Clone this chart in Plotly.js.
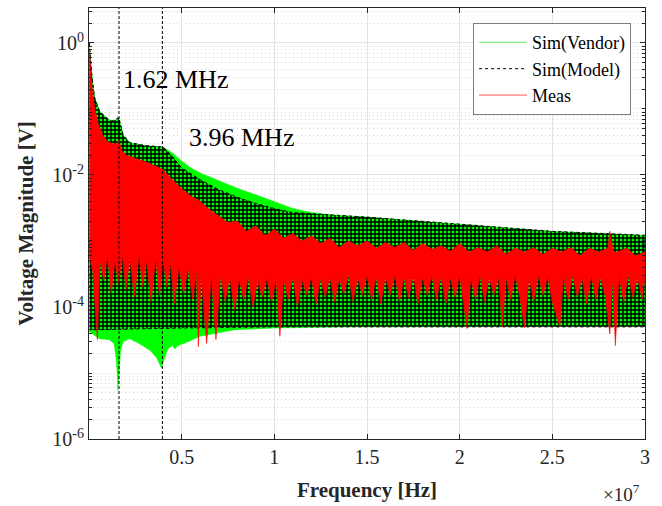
<!DOCTYPE html>
<html>
<head>
<meta charset="utf-8">
<script src="https://cdn.plot.ly/plotly-3.0.1.min.js"></script>
<style>html,body{margin:0;padding:0;background:#fff}#chart{width:662px;height:506px}</style>
</head>
<body>
<div id="chart"></div>
<script>
// ---- Data (frequencies in MHz, magnitudes in V) ----
// Sim(Vendor) envelope
const vendorUpF = [0.02,0.1,0.15,0.3,0.57,0.9,1.2,1.45,1.58,1.68,1.85,2.2,3.0,4.0,4.5,5.0,5.5,6.0,7.0,8.0,9.0,10,11,12,13,14,15,20,25,30];
const vendorUpV = [1.0,0.55,0.34,0.15,0.093,0.075,0.066,0.068,0.075,0.062,0.04,0.031,0.028,0.0265,0.0216,0.0163,0.0128,0.0107,0.0081,0.0063,0.0050,0.0039,0.0031,0.0027,0.0025,0.0024,0.0023,0.0018,0.0014,0.00122];
const vendorLoF = [0.02,0.57,1.1,1.35,1.45,1.52,1.56,1.62,1.7,1.85,2.2,2.7,3.3,3.65,3.9,4.25,4.5,4.63,4.8,5.25,6.0,7.8,10,14,30];
const vendorLoV = [4.2e-5,3.3e-5,3.2e-5,2.8e-5,1.8e-5,1.0e-5,5.4e-6,9e-6,2.2e-5,3.0e-5,3.3e-5,2.8e-5,2.2e-5,1.7e-5,1.2e-5,2.3e-5,2.6e-5,2.3e-5,2.6e-5,2.9e-5,3.6e-5,4.5e-5,4.8e-5,5.0e-5,5.1e-5];
// Sim(Model) envelope
const modelUpF = [0.02,0.1,0.15,0.3,0.57,0.9,1.2,1.45,1.58,1.68,1.85,2.2,3.0,4.0,4.5,5.0,6.0,7.0,8.0,9.0,10,11,12,13,14,15,20,25,30];
const modelUpV = [1.0,0.55,0.34,0.15,0.093,0.075,0.066,0.068,0.075,0.062,0.04,0.031,0.028,0.0265,0.019,0.0128,0.0085,0.0060,0.0046,0.0037,0.0031,0.0027,0.0026,0.0025,0.0024,0.0023,0.0018,0.0014,0.00122];
const modelLoF = [0.02,2.0,5.0,10,20,30];
const modelLoV = [4.5e-5,4.6e-5,4.8e-5,5.0e-5,5.0e-5,5.0e-5];
// Meas envelope
const measUpF = [0.02,0.1,0.2,0.35,0.5,0.75,1.0,1.25,1.5,1.62,1.75,2.0,2.5,3.0,3.5,4.0,4.5,5.0,5.5,6.0,6.5,7.0,7.5,8.0,8.5,9.0,9.5,10,10.5,11,11.5,12,12.5,13,13.5,14,14.5,15,15.5,16,16.5,17,17.5,18,18.5,19,19.5,20,20.5,21,21.5,22,22.5,23,23.5,24,24.5,25,25.5,26,26.5,27,27.5,28,28.1,28.3,28.5,29,29.5,30];
const measUpV = [0.8,0.35,0.16,0.09,0.06,0.04,0.032,0.03,0.03,0.034,0.024,0.02,0.018,0.016,0.014,0.012,0.0085,0.0062,0.0048,0.004,0.003,0.0024,0.0019,0.002,0.0014,0.0017,0.0012,0.0015,0.0011,0.0013,0.001,0.0012,0.00092,0.0011,0.0008,0.001,0.00085,0.001,0.00078,0.00095,0.0008,0.00095,0.00072,0.00092,0.00075,0.00085,0.0007,0.00092,0.00068,0.0008,0.00068,0.00085,0.00063,0.00078,0.00068,0.0008,0.00063,0.00078,0.00068,0.0008,0.0006,0.00078,0.00068,0.00078,0.0014,0.00068,0.00068,0.00078,0.0006,0.00068];
const measLoF = [0.02,0.2,0.45,0.6,0.8,1.0,1.2,1.4,1.6,1.8,2.0,2.2,2.45,2.7,2.9,3.1,3.35,3.6,3.8,4.0,4.2,4.4,4.6,4.85,5.1,5.35,5.6,5.8,5.9,6.05,6.35,6.6,6.85,7.1,7.35,7.6,7.85,8.1,8.35,8.6,8.85,9.1,9.35,9.6,9.85,10.1,10.3,10.5,10.75,11.0,11.25,11.5,11.75,12.0,12.25,12.5,12.75,13.0,13.25,13.5,13.75,14.0,14.25,14.5,14.75,15.0,15.25,15.5,15.75,16.0,16.25,16.5,16.75,17.0,17.25,17.5,17.75,18.0,18.25,18.5,18.75,19.0,19.25,19.5,19.75,20.0,20.4,20.6,20.85,21.1,21.35,21.6,21.85,22.1,22.3,22.5,22.75,23.0,23.25,23.5,23.75,24.0,24.25,24.5,24.75,25.0,25.4,25.6,25.85,26.1,26.35,26.6,26.85,27.1,27.35,27.6,27.85,28.1,28.25,28.4,28.6,28.85,29.1,29.35,29.6,29.85,30.0];
const measLoV = [6e-4,3.5e-4,3.2e-5,5e-4,2.5e-4,6e-4,1.6e-4,5e-4,2.2e-4,6e-4,1.8e-4,5.5e-4,1.4e-4,6e-4,2.0e-4,5e-4,1.2e-4,5.5e-4,1.5e-4,5e-4,2e-4,4.5e-4,1.1e-4,4e-4,1.6e-4,3.8e-4,1.3e-4,3.5e-4,2.5e-5,3.2e-4,2.8e-5,3e-4,3.2e-5,3e-4,1.2e-4,2.8e-4,9e-5,2.6e-4,1.3e-4,2.8e-4,1.0e-4,2.5e-4,1.4e-4,2.7e-4,1.2e-4,2.6e-4,3.6e-5,2.6e-4,1.3e-4,2.8e-4,1.0e-4,2.6e-4,1.5e-4,2.8e-4,1.1e-4,2.7e-4,1.4e-4,2.9e-4,1.2e-4,2.7e-4,1.6e-4,3e-4,1.2e-4,2.8e-4,1.5e-4,3e-4,1.3e-4,2.8e-4,1.1e-4,2.9e-4,1.5e-4,3e-4,1.2e-4,2.8e-4,1.4e-4,3e-4,1.1e-4,2.8e-4,1.5e-4,3e-4,1.3e-4,2.9e-4,1.1e-4,2.8e-4,1.4e-4,3e-4,4.7e-5,2.8e-4,1.3e-4,3e-4,1.2e-4,2.8e-4,1.5e-4,2.9e-4,5e-5,2.8e-4,1.3e-4,3e-4,1.4e-4,4.8e-5,2.8e-4,1.2e-4,3e-4,1.5e-4,2.9e-4,1.2e-4,5e-5,2.8e-4,1.3e-4,3e-4,1.4e-4,2.8e-4,1.1e-4,3e-4,1.3e-4,2.8e-4,1.5e-4,3.9e-5,2.8e-4,2.6e-5,2.9e-4,1.2e-4,3e-4,1.4e-4,2.8e-4,1.3e-4,2.9e-4];
// Marked resonances (MHz)
const markerF = [1.62, 3.96];
const markerLabels = ['1.62 MHz', '3.96 MHz'];
// Axis ticks
const xTickVals = [0.5e7,1e7,1.5e7,2e7,2.5e7,3e7];
const xTickText = ['0.5','1','1.5','2','2.5','3'];
const yTickVals = [1e-6,1e-4,1e-2,1];
const yTickText = ['10<sup>-6</sup>','10<sup>-4</sup>','10<sup>-2</sup>','10<sup>0</sup>'];

// ---- Build ----
const hz = a => a.map(v => v * 1e6);
function band(upF, upV, loF, loV) {
  return {
    x: hz(upF).concat(hz(loF).reverse()),
    y: upV.concat(loV.slice().reverse())
  };
}
const vb = band(vendorUpF, vendorUpV, vendorLoF, vendorLoV);
const mb = band(modelUpF, modelUpV, modelLoF, modelLoV);
const rb = band(measUpF, measUpV, measLoF, measLoV);

const minorVals = [];
for (let e = -6; e <= 0; e++) {
  for (let m = 1; m <= 9; m++) {
    if (m === 1 && e % 2 === 0) continue;
    minorVals.push(m * Math.pow(10, e));
  }
}

const serif = '"Liberation Serif", "Times New Roman", serif';
const traces = [
  {x: vb.x, y: vb.y, mode: 'lines', fill: 'toself', fillcolor: '#00ff00', line: {color: '#00ff00', width: 0.5}, showlegend: false, hoverinfo: 'skip'},
  {x: mb.x, y: mb.y, mode: 'lines', fill: 'toself', fillcolor: 'rgba(0,0,0,0)',
   fillpattern: {shape: '+', fgcolor: '#000000', bgcolor: 'rgba(0,0,0,0)', size: 4, solidity: 0.6},
   line: {color: '#000000', width: 1, dash: 'dot'}, showlegend: false, hoverinfo: 'skip'},
  {x: rb.x, y: rb.y, mode: 'lines', fill: 'toself', fillcolor: '#ff0000', line: {color: '#ff0000', width: 0.6}, showlegend: false, hoverinfo: 'skip'},
  {x: [null], y: [null], mode: 'lines', name: 'Sim(Vendor)', line: {color: '#66ee66', width: 1}},
  {x: [null], y: [null], mode: 'lines', name: 'Sim(Model)', line: {color: '#000000', width: 1, dash: 'dot'}},
  {x: [null], y: [null], mode: 'lines', name: 'Meas', line: {color: '#ff5555', width: 1}}
];

const shapes = markerF.map(f => ({
  type: 'line', xref: 'x', yref: 'paper', x0: f * 1e6, x1: f * 1e6, y0: 0, y1: 1,
  line: {color: '#000000', width: 1, dash: '3px,2px'}, layer: 'above'
}));

const annotations = [
  {xref: 'paper', yref: 'paper', x: 0.057, y: 0.833, xanchor: 'left', yanchor: 'middle', showarrow: false,
   text: markerLabels[0], font: {family: serif, size: 26, color: '#000'}},
  {xref: 'paper', yref: 'paper', x: 0.176, y: 0.70, xanchor: 'left', yanchor: 'middle', showarrow: false,
   text: markerLabels[1], font: {family: serif, size: 26, color: '#000'}},
  {xref: 'paper', yref: 'paper', x: 0.995, y: -0.125, xanchor: 'right', yanchor: 'middle', showarrow: false,
   text: '\u00d710<sup>7</sup>', font: {family: serif, size: 19, color: '#262626'}}
];

const layout = {
  width: 662, height: 506,
  margin: {l: 89, r: 17, t: 8, b: 67},
  paper_bgcolor: '#ffffff', plot_bgcolor: '#ffffff',
  font: {family: serif, color: '#262626'},
  showlegend: true,
  legend: {x: 0.975, y: 0.965, xanchor: 'right', yanchor: 'top', bgcolor: '#ffffff',
           bordercolor: '#7f7f7f', borderwidth: 1, font: {family: serif, size: 18, color: '#000'},
           tracegroupgap: 0, itemwidth: 48},
  xaxis: {
    range: [0, 3e7], tickmode: 'array', tickvals: xTickVals, ticktext: xTickText,
    ticks: 'inside', ticklen: 5, tickcolor: '#262626', showline: true, linecolor: '#262626', linewidth: 1, mirror: 'ticks',
    showgrid: true, gridcolor: '#e3e3e3', gridwidth: 1, zeroline: false,
    tickfont: {family: serif, size: 20, color: '#262626'},
    title: {text: '<b>Frequency [Hz]</b>', font: {family: serif, size: 21, color: '#262626'}, standoff: 15}
  },
  yaxis: {
    type: 'log', range: [-6, 0.53], tickmode: 'array', tickvals: yTickVals, ticktext: yTickText,
    ticks: 'inside', ticklen: 5, tickcolor: '#262626', showline: true, linecolor: '#262626', linewidth: 1, mirror: 'ticks',
    showgrid: true, gridcolor: '#e3e3e3', gridwidth: 1, zeroline: false,
    tickfont: {family: serif, size: 20, color: '#262626'},
    minor: {tickmode: 'array', tickvals: minorVals, ticks: 'inside', ticklen: 3, tickcolor: '#262626',
            showgrid: true, gridcolor: '#d6d6d6', griddash: '1px,3px', gridwidth: 1},
    title: {text: '<b>Voltage Magnitude [V]</b>', font: {family: serif, size: 21, color: '#262626'}, standoff: 12}
  },
  shapes: shapes,
  annotations: annotations
};

Plotly.newPlot('chart', traces, layout, {displayModeBar: false, staticPlot: true});
</script>
</body>
</html>
